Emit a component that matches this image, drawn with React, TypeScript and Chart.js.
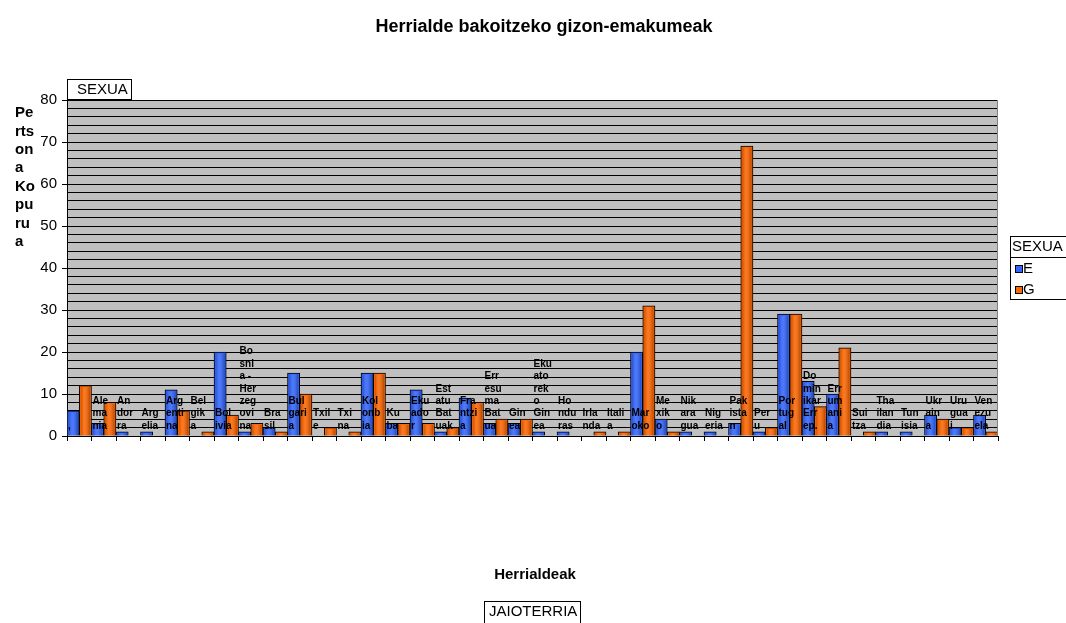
import React, { useEffect, useRef } from "react";
import { Chart, registerables } from "chart.js";

Chart.register(...registerables);

// ---------- data ----------
const chartTitle = "Herrialde bakoitzeko gizon-emakumeak";
const yAxisTitleLines = ["Pe", "rts", "on", "a", "Ko", "pu", "ru", "a"];
const xAxisTitle = "Herrialdeak";
const seriesField = "SEXUA";
const categoryField = "JAIOTERRIA";
const seriesNames = ["E", "G"];

const countries: string[][] = [
  [","],
  ["Ale", "ma", "nia"],
  ["An", "dor", "ra"],
  ["Arg", "elia"],
  ["Arg", "enti", "na"],
  ["Bel", "gik", "a"],
  ["Bol", "ivia"],
  ["Bo", "sni", "a -", "Her", "zeg", "ovi", "na"],
  ["Bra", "sil"],
  ["Bul", "gari", "a"],
  ["Txil", "e"],
  ["Txi", "na"],
  ["Kol", "onb", "ia"],
  ["Ku", "ba"],
  ["Eku", "ado", "r"],
  ["Est", "atu", "Bat", "uak"],
  ["Fra", "ntzi", "a"],
  ["Err", "esu", "ma", "Bat", "ua"],
  ["Gin", "ea"],
  ["Eku", "ato", "rek", "o", "Gin", "ea"],
  ["Ho", "ndu", "ras"],
  ["Irla", "nda"],
  ["Itali", "a"],
  ["Mar", "oko"],
  ["Me", "xik", "o"],
  ["Nik", "ara", "gua"],
  ["Nig", "eria"],
  ["Pak", "ista", "n"],
  ["Per", "u"],
  ["Por", "tug", "al"],
  ["Do", "min", "ikar", "Err", "ep."],
  ["Err", "um", "ani", "a"],
  ["Sui", "tza"],
  ["Tha", "ilan", "dia"],
  ["Tun", "isia"],
  ["Ukr", "ain", "a"],
  ["Uru", "gua", "i"],
  ["Ven", "ezu", "ela"],
];

const eValues = [6, 3, 1, 1, 11, 0, 20, 1, 2, 15, 0, 0, 15, 3, 11, 1, 9, 3, 3, 1, 1, 0, 0, 20, 4, 1, 1, 3, 1, 29, 13, 10, 0, 1, 1, 5, 2, 5];
const gValues = [12, 8, 0, 0, 6, 1, 5, 3, 1, 10, 2, 1, 15, 3, 3, 2, 8, 4, 4, 0, 0, 1, 1, 31, 1, 0, 0, 69, 2, 29, 7, 21, 1, 0, 0, 4, 2, 1];

const yMin = 0;
const yMax = 80;
const yMajorStep = 10;
const yMinorStep = 2;

// ---------- styles ----------
const FONT = "'Liberation Sans', Arial, Helvetica, sans-serif";
const BLUE = "#3366FF";
const ORANGE = "#FF6600";
const PLOT_BG = "#C0C0C0";

const decorPlugin = {
  id: "decor",
  beforeDraw(chart: any) {
    const { ctx, chartArea: a } = chart;
    ctx.save();
    ctx.fillStyle = "#ffffff";
    ctx.fillRect(0, 0, chart.width, chart.height);
    ctx.fillStyle = PLOT_BG;
    ctx.fillRect(a.left, a.top, a.right - a.left, a.bottom - a.top);
    ctx.restore();
  },
  afterDatasetsDraw(chart: any) {
    const { ctx, chartArea: a } = chart;
    ctx.save();
    // cylinder-like shading on bars
    chart.data.datasets.forEach((_ds: any, di: number) => {
      const meta = chart.getDatasetMeta(di);
      meta.data.forEach((el: any) => {
        const p = el.getProps(["x", "y", "base", "width"], true);
        const h = p.base - p.y;
        if (h <= 3) return;
        const l = p.x - p.width / 2 + 1.5;
        const r = p.x + p.width / 2 - 1.5;
        const g = ctx.createLinearGradient(l, 0, r, 0);
        g.addColorStop(0, "rgba(0,0,0,0.2)");
        g.addColorStop(0.4, "rgba(255,255,255,0.12)");
        g.addColorStop(1, "rgba(0,0,0,0.28)");
        ctx.fillStyle = g;
        ctx.fillRect(l, p.y + 1.5, r - l, h - 1.5);
      });
    });
    // category labels drawn inside the plot, as in the reference
    const xs = chart.scales.x;
    const half = (xs.getPixelForValue(1) - xs.getPixelForValue(0)) / 2;
    ctx.font = `bold 10px ${FONT}`;
    ctx.fillStyle = "#000";
    ctx.textAlign = "left";
    ctx.textBaseline = "middle";
    const lh = 12.4;
    countries.forEach((lines, i) => {
      const lx = xs.getPixelForValue(i) - half + 1;
      lines.forEach((t, j) => {
        const ly = a.bottom - 10 - (lines.length - 1 - j) * lh;
        ctx.fillText(t, lx, ly);
      });
    });
    ctx.restore();
  },
  afterDraw(chart: any) {
    const { ctx, chartArea: a } = chart;
    ctx.save();
    // plot area right border
    ctx.strokeStyle = "#808080";
    ctx.lineWidth = 1;
    ctx.beginPath();
    ctx.moveTo(Math.round(a.right) - 0.5, a.top);
    ctx.lineTo(Math.round(a.right) - 0.5, a.bottom);
    ctx.stroke();

    ctx.fillStyle = "#000";
    // chart title
    ctx.font = `bold 18px ${FONT}`;
    ctx.textAlign = "center";
    ctx.textBaseline = "middle";
    ctx.fillText(chartTitle, 544, 27);

    // y axis title (wrapped)
    ctx.font = `bold 15px ${FONT}`;
    ctx.textAlign = "left";
    yAxisTitleLines.forEach((t, i) => ctx.fillText(t, 15, 113 + i * 18.4));

    // x axis title
    ctx.textAlign = "center";
    ctx.fillText(xAxisTitle, 535, 575);

    // series field button (top-left)
    ctx.font = `15px ${FONT}`;
    ctx.fillStyle = "#fff";
    ctx.fillRect(67.5, 79.5, 64, 20);
    ctx.strokeStyle = "#000";
    ctx.strokeRect(67.5, 79.5, 64, 20);
    ctx.fillStyle = "#000";
    ctx.textAlign = "left";
    ctx.fillText(seriesField, 77, 90);

    // category field button (bottom)
    ctx.fillStyle = "#fff";
    ctx.fillRect(484.5, 601.5, 96, 22);
    ctx.strokeRect(484.5, 601.5, 96, 22);
    ctx.fillStyle = "#000";
    ctx.fillText(categoryField, 489, 612);

    // legend box
    const lx = 1010.5;
    const ly = 236.5;
    ctx.fillStyle = "#fff";
    ctx.fillRect(lx, ly, 70, 63);
    ctx.strokeRect(lx, ly, 70, 63);
    ctx.beginPath();
    ctx.moveTo(lx, 257.5);
    ctx.lineTo(1066, 257.5);
    ctx.stroke();
    ctx.fillStyle = "#000";
    ctx.fillText(seriesField, 1012, 247);
    const colors = [BLUE, ORANGE];
    seriesNames.forEach((n, i) => {
      const sy = 265 + i * 21;
      ctx.fillStyle = colors[i];
      ctx.fillRect(1015, sy, 7, 7);
      ctx.strokeStyle = "#000";
      ctx.strokeRect(1015.5, sy + 0.5, 7, 7);
      ctx.fillStyle = "#000";
      ctx.fillText(n, 1023, sy + 4);
    });
    ctx.restore();
  },
};

export default function App() {
  const ref = useRef<HTMLCanvasElement>(null);

  useEffect(() => {
    document.body.style.margin = "0";
    Chart.defaults.font.family = FONT;
    const chart = new Chart(ref.current as HTMLCanvasElement, {
      type: "bar",
      data: {
        labels: countries,
        datasets: [
          {
            label: seriesNames[0],
            data: eValues,
            backgroundColor: BLUE,
            borderColor: "#000",
            borderWidth: 1,
            categoryPercentage: 1,
            barPercentage: 1,
          },
          {
            label: seriesNames[1],
            data: gValues,
            backgroundColor: ORANGE,
            borderColor: "#000",
            borderWidth: 1,
            categoryPercentage: 1,
            barPercentage: 1,
          },
        ],
      },
      options: {
        animation: false,
        responsive: false,
        devicePixelRatio: 1,
        layout: { padding: { top: 100, right: 68, left: 0, bottom: 0 } },
        plugins: {
          legend: { display: false },
          title: { display: false },
          tooltip: { enabled: false },
        },
        scales: {
          x: {
            type: "category",
            ticks: { display: false },
            grid: {
              offset: true,
              drawOnChartArea: false,
              drawTicks: true,
              tickLength: 5,
              color: "#000",
            },
            border: { display: true, color: "#000", width: 1 },
            afterFit: (s: any) => {
              s.height = 187;
            },
          },
          y: {
            min: yMin,
            max: yMax,
            ticks: {
              stepSize: yMinorStep,
              autoSkip: false,
              color: "#000",
              padding: 5,
              font: { size: 15, family: FONT },
              callback: (v: any) => (Number(v) % yMajorStep === 0 ? String(v) : ""),
            },
            grid: {
              color: "#000",
              lineWidth: 1,
              drawTicks: true,
              tickLength: 5,
              tickColor: (c: any) =>
                c.tick && c.tick.value % yMajorStep === 0 ? "#000" : "rgba(0,0,0,0)",
            },
            border: { display: true, color: "#000", width: 1 },
            afterFit: (s: any) => {
              s.width = 67;
            },
          },
        },
      },
      plugins: [decorPlugin],
    } as any);
    return () => chart.destroy();
  }, []);

  return (
    <div style={{ position: "fixed", left: 0, top: 0, width: 1066, height: 623, background: "#fff" }}>
      <canvas ref={ref} width={1066} height={623} style={{ display: "block", width: 1066, height: 623 }} />
    </div>
  );
}
